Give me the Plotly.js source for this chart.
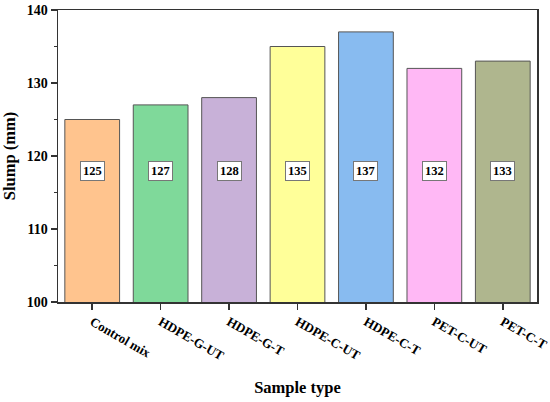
<!DOCTYPE html>
<html><head><meta charset="utf-8">
<script src="https://cdn.plot.ly/plotly-3.0.1.min.js"></script>
<style>html,body{margin:0;padding:0;background:#fff}</style>
</head><body>
<div id="chart" style="width:550px;height:402px"></div>
<script>
const categories = ["Control mix","HDPE-G-UT","HDPE-G-T","HDPE-C-UT","HDPE-C-T","PET-C-UT","PET-C-T"];
const slump = [125,127,128,135,137,132,133];
const barColors = ["#FFC48E","#7FD99A","#C8B1D8","#FFFF99","#88BBF0","#FFB8F5","#AFB68E"];
const labelY = 118;
const yTicks = [100,110,120,130,140];

const font = "Times New Roman, Liberation Serif, serif";
const data = [{
  type: "bar",
  x: categories,
  y: slump,
  width: 0.8,
  marker: {color: barColors, line: {color: "#555555", width: 1}},
  hoverinfo: "none"
}];
const annotations = categories.map((c,i)=>({
  x: c, y: labelY, xref: "x", yref: "y",
  text: "<b>" + slump[i] + "</b>",
  showarrow: false,
  bgcolor: "#ffffff", bordercolor: "#777777", borderwidth: 1, borderpad: 2,
  font: {family: font, size: 12.5, color: "#000"}
}));
const layout = {
  width: 550, height: 402,
  margin: {l: 58, r: 13, t: 10, b: 100},
  paper_bgcolor: "#fff", plot_bgcolor: "#fff",
  showlegend: false,
  bargap: 0.2,
  font: {family: font, color: "#000"},
  xaxis: {
    range: [-0.5, 6.5],
    showline: true, linecolor: "#333", linewidth: 1.5, mirror: true,
    ticks: "outside", ticklen: 6, tickcolor: "#333", tickwidth: 1.5,
    tickangle: 30,
    tickfont: {family: font, size: 13, color: "#000", weight: "bold"},
    title: {text: "<b>Sample type</b>", font: {family: font, size: 16.5, color: "#000"}, standoff: 19}
  },
  yaxis: {
    range: [100, 140],
    tickvals: yTicks,
    ticktext: yTicks.map(v=>"<b>"+v+"</b>"),
    showline: true, linecolor: "#333", linewidth: 1.5, mirror: true,
    ticks: "outside", ticklen: 6, tickcolor: "#333", tickwidth: 1.5,
    minor: {dtick: 5, ticks: "outside", ticklen: 3, tickcolor: "#333", tickwidth: 1},
    showgrid: false, zeroline: false,
    tickfont: {family: font, size: 14, color: "#000"},
    title: {text: "<b>Slump (mm)</b>", font: {family: font, size: 16.5, color: "#000"}, standoff: 8}
  },
  annotations: annotations
};
Plotly.newPlot("chart", data, layout, {displayModeBar: false, staticPlot: true});
</script>
</body></html>
